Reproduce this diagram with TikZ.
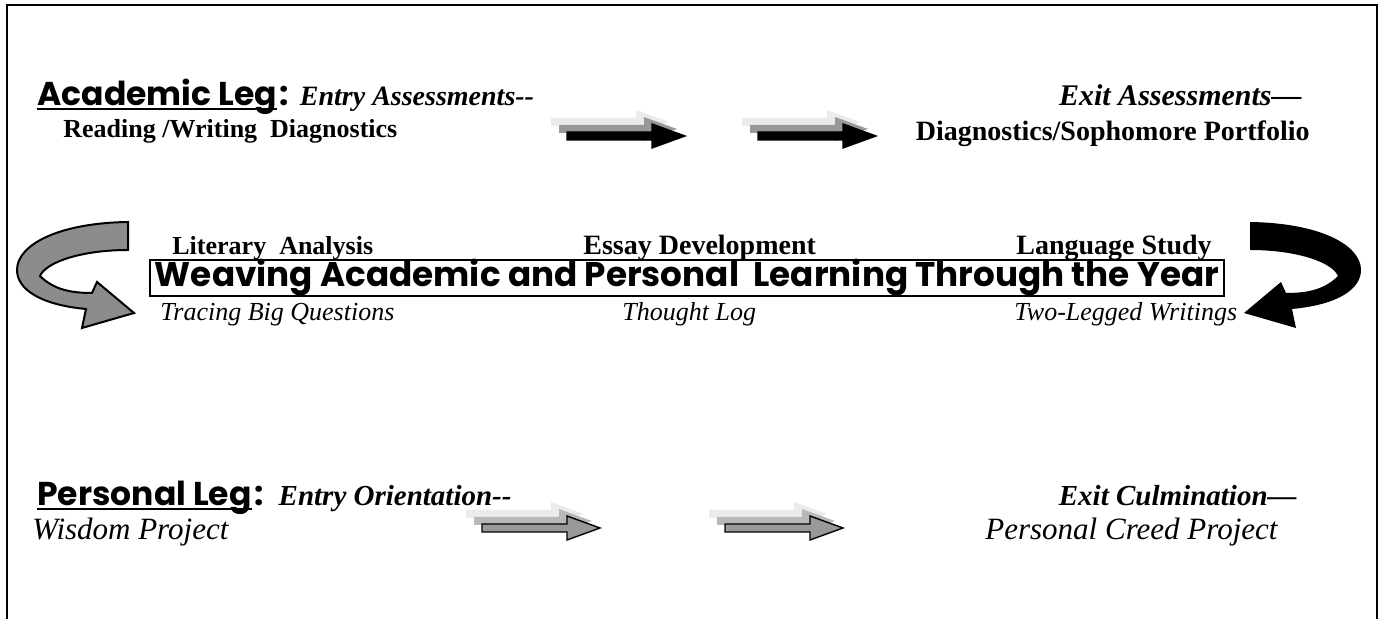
\documentclass[tikz,border=0pt]{standalone}
\usepackage{fontspec}
\setmainfont{Liberation Serif}
\newfontfamily\comicfont{Poppins}
\usetikzlibrary{positioning}

\definecolor{arrowgray}{gray}{0.55}
\definecolor{fadelight}{gray}{0.92}
\definecolor{fademid}{gray}{0.6}

% one flat block arrow, given by its tip
\newcommand\blockarrow[4]{%
  \path[fill=#3,draw=#4,line width=0.7pt]
    (#1-118,#2-4) -- (#1-33,#2-4) -- (#1-33,#2-12) -- (#1,#2)
    -- (#1-33,#2+12) -- (#1-33,#2+4) -- (#1-118,#2+4) -- cycle;}
\newcommand\fadearrow[4]{%
  \blockarrow{#1-16}{#2-14}{fadelight}{none}
  \blockarrow{#1-8}{#2-7}{#3}{none}
  \blockarrow{#1}{#2}{#4}{black}}
% the curved arrow at the side of the year
\newcommand\turnarrow[1]{%
  \path[#1]
    (128,222) -- (128,250) .. controls (82,250) and (46,262) .. (40,276)
    .. controls (54,290) and (72,293) .. (92,293) -- (97,282) -- (134,313) -- (82,328) -- (86,309)
    .. controls (42,305) and (17,290) .. (17,270) .. controls (17,245) and (58,223) .. (128,222) -- cycle;}

\begin{document}
\begin{tikzpicture}[x=0.5pt,y=-0.5pt,
  leg/.style={font=\comicfont\bfseries\fontsize{16.5}{19}\selectfont, inner sep=0pt, anchor=base west},
  stage/.style={font=\bfseries\itshape\fontsize{15}{18}\selectfont, inner sep=0pt},
  detail/.style={font=\bfseries\fontsize{14}{16}\selectfont, inner sep=0pt, anchor=base west},
  script/.style={font=\itshape\fontsize{13}{16}\selectfont, inner sep=0pt, anchor=base west},
  weave/.style={draw, line width=1pt, inner sep=0pt, minimum width=537pt, minimum height=16.5pt,
    font=\comicfont\bfseries\fontsize{16}{19}\selectfont}]
\useasboundingbox (0,0) rectangle (1383,619);
\draw[line width=1.3pt] (7,619) -- (7,5) -- (1377,5) -- (1377,619);

% academic leg
\node[leg] (acadleg) at (37,106) {Academic Leg};
\node[leg] (acadcolon) at ([xshift=1pt]acadleg.base east) {:};
\node[stage, anchor=base west, font=\bfseries\itshape\fontsize{14}{17}\selectfont] (acadentry) at ([xshift=5pt]acadcolon.base east) {Entry Assessments-{}-};
\node[stage, anchor=base east] (acadexit) at (1302,106) {Exit Assessments—};
\draw[line width=1.2pt] ([yshift=-1.5pt]acadleg.base west) -- ([yshift=-1.5pt]acadleg.base east);
\node[detail, font=\bfseries\fontsize{13}{16}\selectfont] (reading) at (63,138) {Reading /Writing~~Diagnostics};
\node[detail, anchor=base east] (sophomore) at (1310,141) {Diagnostics/Sophomore Portfolio};
\fadearrow{685}{136}{fademid}{black}
\fadearrow{876}{136}{fademid}{black}

% the year
\node[detail, font=\bfseries\fontsize{13}{16}\selectfont] (literary) at (172,255) {Literary~~Analysis};
\node[detail] (essay) at (583,255) {Essay Development};
\node[detail] (language) at (1016,255) {Language Study};
\node[weave] (weaving) at (687,278) {\resizebox{532pt}{!}{Weaving Academic and Personal~~Learning Through the Year}};
\node[script] (tracing) at (160,321) {Tracing Big Questions};
\node[script] (thought) at (622,321) {Thought Log};
\node[script] (twolegged) at (1014,321) {Two-Legged Writings};
\turnarrow{fill=arrowgray, draw=black, line width=1pt}
\begin{scope}[shift={(1378,0)}, xscale=-1]
\turnarrow{fill=black}
\end{scope}

% personal leg
\node[leg] (persleg) at (37,506) {Personal Leg};
\node[leg] (perscolon) at ([xshift=1pt]persleg.base east) {:};
\node[stage, anchor=base west, font=\bfseries\itshape\fontsize{14.5}{17}\selectfont] (persentry) at ([xshift=7pt]perscolon.base east) {Entry Orientation-{}-};
\node[stage, anchor=base east, font=\bfseries\itshape\fontsize{14.5}{17}\selectfont] (persexit) at (1297,506) {Exit Culmination—};
\draw[line width=1.2pt] ([yshift=-1.5pt]persleg.base west) -- ([yshift=-1.5pt]persleg.base east);
\node[script, font=\itshape\fontsize{15.5}{18}\selectfont] (wisdom) at (32,540) {Wisdom Project};
\node[script, font=\itshape\fontsize{15.5}{18}\selectfont] (creed) at (985,540) {Personal Creed Project};
\fadearrow{600}{528}{fademid!70!white}{fademid}
\fadearrow{843}{528}{fademid!70!white}{fademid}
\end{tikzpicture}
\end{document}
